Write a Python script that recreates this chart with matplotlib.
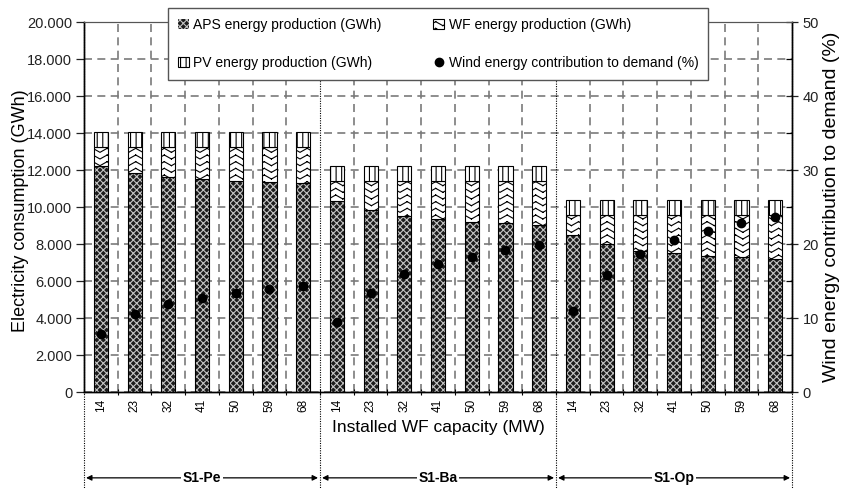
import warnings
import numpy as np
import matplotlib
matplotlib.use('Agg')
import matplotlib.pyplot as plt
import matplotlib.hatch as mhatch
import matplotlib.transforms as mtransforms
from matplotlib.path import Path
from matplotlib.ticker import FuncFormatter, MultipleLocator, FixedLocator

warnings.filterwarnings('ignore')

# data
capacity = [14, 23, 32, 41, 50, 59, 68]
scenarios = ['S1-Pe', 'S1-Ba', 'S1-Op']

aps = [12200, 11820, 11640, 11510, 11400, 11330, 11280,
       10340, 9840, 9510, 9350, 9210, 9120, 9030,
       8490, 8000, 7640, 7500, 7350, 7280, 7170]
wf = [1060, 1440, 1620, 1750, 1860, 1930, 1980,
      1060, 1560, 1890, 2050, 2190, 2280, 2370,
      1070, 1560, 1920, 2060, 2210, 2280, 2390]
pv = [820, 820, 820, 820, 820, 820, 820,
      830, 830, 830, 830, 830, 830, 830,
      840, 840, 840, 840, 840, 840, 840]
wind_share = [7.8, 10.5, 11.9, 12.7, 13.4, 13.9, 14.3,
              9.4, 13.4, 15.9, 17.3, 18.3, 19.2, 19.8,
              10.9, 15.8, 18.7, 20.6, 21.8, 22.9, 23.6]


class WaveHatch(mhatch.HatchPatternBase):
    """zigzag hatch for the WF part, triggered by 'v'.
    Each stroke is its own move/line pair so agg does not fill it."""
    def __init__(self, hatch, density):
        self.rows = int(hatch.count('v') * density * 2.5)
        self.periods = 7
        self.nseg = 2 * self.periods
        self.num_vertices = self.rows * self.nseg * 2

    def set_vertices_and_codes(self, vertices, codes):
        xs = np.linspace(0.0, 1.0, self.nseg + 1)
        ys = np.tile([0.0, 1.0], self.periods + 1)[:self.nseg + 1] * 0.04
        i = 0
        for r in range(self.rows):
            y0 = r / self.rows + 0.01
            for s in range(self.nseg):
                vertices[i] = (xs[s], y0 + ys[s])
                vertices[i + 1] = (xs[s + 1], y0 + ys[s + 1])
                codes[i] = Path.MOVETO
                codes[i + 1] = Path.LINETO
                i += 2


mhatch._hatch_types.append(WaveHatch)

plt.rcParams['font.family'] = ['Liberation Sans', 'DejaVu Sans']
plt.rcParams['hatch.linewidth'] = 0.8

aps = np.array(aps)
wf = np.array(wf)
pv = np.array(pv)
x = np.arange(len(aps))
ngroup = len(capacity)
width = 0.42

fig = plt.figure(figsize=(8.42, 4.88), dpi=100)
ax = fig.add_axes([0.0998, 0.1967, 0.8409, 0.7582])
ax2 = ax.twinx()

b_aps = ax.bar(x, aps, width, color='#1c1c1c', edgecolor='#c4c4c4', hatch='xxxxx',
               lw=0, zorder=3, label='APS energy production (GWh)')
ax.bar(x, aps, width, fill=False, edgecolor='black', lw=0.8, zorder=3)
b_wf = ax.bar(x, wf, width, bottom=aps, color='white', edgecolor='black', hatch='v',
              lw=0.8, zorder=3, label='WF energy production (GWh)')
b_pv = ax.bar(x, pv, width, bottom=aps + wf, color='white', edgecolor='black', hatch='|||',
              lw=0.8, zorder=3, label='PV energy production (GWh)')
dots, = ax2.plot(x, wind_share, 'o', color='black', ms=6, zorder=4,
                 label='Wind energy contribution to demand (%)')

ax.set_xlim(-0.5, len(x) - 0.5)
ax.set_ylim(0, 20000)
ax2.set_ylim(0, 50)

# grid
dash = (0, (4.8, 3.2))
ax.yaxis.set_major_locator(MultipleLocator(2000))
ax.yaxis.grid(True, ls=dash, color='#7a7a7a', lw=1.2, zorder=0)
ax.set_axisbelow(True)
bounds = np.arange(len(x) - 1) + 0.5
group_bounds = [g * ngroup - 0.5 for g in range(len(scenarios) + 1)]
for b in bounds:
    if b not in group_bounds:
        ax.axvline(b, ls=dash, color='#7a7a7a', lw=1.2, zorder=0)

trans = mtransforms.blended_transform_factory(ax.transData, ax.transAxes)
for b in group_bounds:
    ax.plot([b, b], [1.0, -0.26], transform=trans, clip_on=False,
            ls=(0, (1, 1.2)), color='black', lw=0.8, zorder=1)

# ticks
ax.set_xticks(x, [str(c) for c in capacity] * len(scenarios), rotation=90, fontsize=8.5)
ax.tick_params(axis='x', which='major', length=0, pad=5)
ax.xaxis.set_minor_locator(FixedLocator(bounds))
ax.tick_params(axis='x', which='minor', length=4, direction='inout', width=0.8)
ax.yaxis.set_major_formatter(FuncFormatter(lambda v, _: f'{int(v):,}'.replace(',', '.')))
ax.tick_params(axis='y', labelsize=10.5, length=6, width=0.9, pad=2.5, colors='#222222')
ax2.yaxis.set_major_locator(MultipleLocator(10))
ax2.yaxis.set_minor_locator(MultipleLocator(5))
ax2.tick_params(axis='y', which='major', labelsize=10.5, length=8, direction='inout',
                width=0.9, colors='#222222')
ax2.tick_params(axis='y', which='minor', length=4, direction='in', width=0.9)

for a in (ax, ax2):
    a.spines['top'].set_color('#555555')
    a.spines['bottom'].set_linewidth(1.0)
    a.spines['left'].set_linewidth(1.0)
    a.spines['right'].set_linewidth(1.0)

ax.set_ylabel('Electricity consumption (GWh)', fontsize=13)
ax.yaxis.set_label_coords(-0.078, 0.49)
ax2.set_ylabel('Wind energy contribution to demand (%)', fontsize=14)
ax2.yaxis.set_label_coords(1.044, 0.5)
ax.set_xlabel('Installed WF capacity (MW)', fontsize=12.5)
ax.xaxis.set_label_coords(0.5, -0.075)

# scenario brackets under the axis
for g, name in enumerate(scenarios):
    xs = g * ngroup - 0.5
    xe = xs + ngroup
    ax.annotate('', xy=(xs + 0.06, -0.232), xytext=(xe - 0.06, -0.232),
                xycoords=trans, textcoords=trans,
                arrowprops=dict(arrowstyle='<|-|>', color='black', lw=0.9,
                                mutation_scale=8, shrinkA=0, shrinkB=0))
    ax.text((xs + xe) / 2, -0.232, name, transform=trans, ha='center', va='center',
            fontsize=10, fontweight='bold',
            bbox=dict(facecolor='white', edgecolor='none', pad=1))

leg = ax2.legend([b_aps, b_pv, b_wf, dots],
                 [b_aps.get_label(), b_pv.get_label(), b_wf.get_label(), dots.get_label()],
                 ncol=2, loc='upper left', bbox_to_anchor=(0.1186, 0.84, 0.7627, 0.198),
                 mode='expand', borderaxespad=0, fontsize=10, frameon=True,
                 fancybox=False, edgecolor='#555555', framealpha=1,
                 handlelength=0.8, handleheight=0.8, handletextpad=0.3,
                 labelspacing=1.75, borderpad=0.7)
leg.get_frame().set_linewidth(1.0)
leg.set_zorder(10)

fig.savefig('out.png', dpi=100)
